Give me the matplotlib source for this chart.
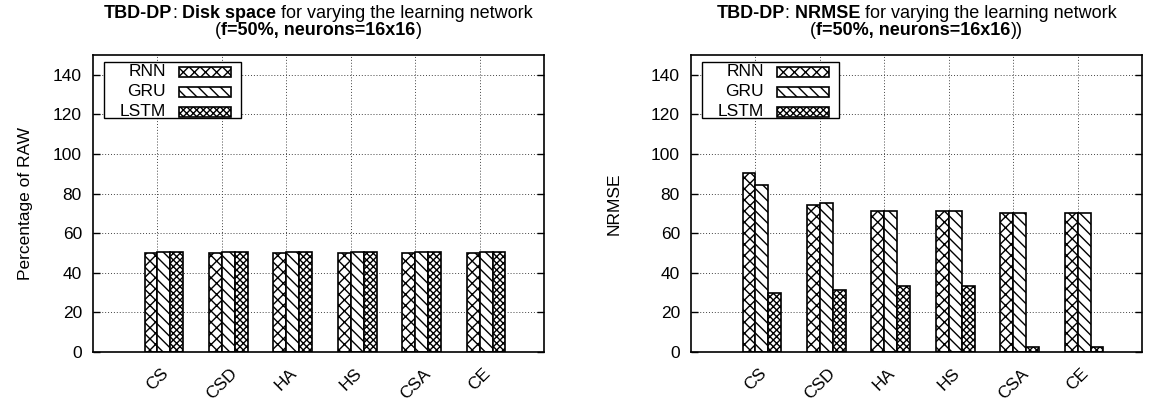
import numpy as np
import matplotlib
matplotlib.use('Agg')
import matplotlib.pyplot as plt
from matplotlib.patches import Rectangle
from matplotlib.offsetbox import TextArea, HPacker, VPacker, AnchoredOffsetbox

plt.rcParams['font.family'] = ['Liberation Sans', 'DejaVu Sans']
plt.rcParams['hatch.linewidth'] = 1.0

# data
categories = ['CS', 'CSD', 'HA', 'HS', 'CSA', 'CE']
series_names = ['RNN', 'GRU', 'LSTM']

disk_rnn = [50.0, 50.0, 50.0, 50.0, 50.0, 50.0]
disk_gru = [50.3, 50.3, 50.3, 50.3, 50.3, 50.3]
disk_lstm = [50.5, 50.5, 50.5, 50.5, 50.5, 50.5]

nrmse_rnn = [90.4, 74.4, 71.1, 71.1, 70.4, 70.4]
nrmse_gru = [84.2, 75.1, 71.1, 71.1, 70.4, 70.4]
nrmse_lstm = [30.0, 31.5, 33.5, 33.5, 2.5, 2.5]

y_ticks = [0, 20, 40, 60, 80, 100, 120, 140]

HATCHES = ['xxx', '\\\\\\', 'xxxxx']
FS = 12.5
TFS = 13
AX_W, AX_H = 451.0, 297.0  # axes size in pixels


def fx(px):
    # pixels from axes left -> axes fraction
    return px / AX_W


def fy(py):
    # pixels from axes top -> axes fraction
    return 1 - py / AX_H


def make_title(ax, bold_part, closing):
    line1 = HPacker(children=[
        TextArea('TBD-DP', textprops=dict(size=TFS, weight='bold')),
        TextArea(':', textprops=dict(size=TFS)),
        TextArea(' ' + bold_part, textprops=dict(size=TFS, weight='bold')),
        TextArea(' for varying the learning network', textprops=dict(size=TFS)),
    ], pad=0, sep=0, align='baseline')
    line2 = HPacker(children=[
        TextArea('(', textprops=dict(size=TFS)),
        TextArea('f=50%, neurons=16x16', textprops=dict(size=TFS, weight='bold')),
        TextArea(closing, textprops=dict(size=TFS)),
    ], pad=0, sep=0, align='baseline')
    box = VPacker(children=[line1, line2], pad=0, sep=0, align='center')
    anchored = AnchoredOffsetbox(loc='lower center', child=box, pad=0, borderpad=0,
                                 frameon=False, bbox_to_anchor=(0.5, 1.055),
                                 bbox_transform=ax.transAxes)
    ax.add_artist(anchored)


def draw_legend(ax):
    # hand-made key: label on the left (right aligned), hatched sample on the right
    ax.add_patch(Rectangle((fx(11), fy(63)), fx(137), fy(7.5) - fy(63),
                           transform=ax.transAxes, facecolor='white',
                           edgecolor='black', linewidth=1.0, zorder=4))
    for k, name in enumerate(series_names):
        yc = 17 + 20 * k
        ax.text(fx(73), fy(yc), name, transform=ax.transAxes, ha='right',
                va='center', fontsize=FS, zorder=5)
        ax.add_patch(Rectangle((fx(86), fy(yc + 5)), fx(52), fy(yc - 5) - fy(yc + 5),
                               transform=ax.transAxes, facecolor='white',
                               edgecolor='black', hatch=HATCHES[k], linewidth=1.2,
                               zorder=5))


def draw_panel(ax, rnn, gru, lstm, ylabel, bold_part, closing, labelpad):
    x = np.arange(len(categories))
    w = 0.2
    for k, vals in enumerate([rnn, gru, lstm]):
        ax.bar(x - w / 2 + k * w, vals, width=w, facecolor='white', edgecolor='black',
               hatch=HATCHES[k], linewidth=1.2, zorder=2)
    ax.set_xlim(-1, 6)
    ax.set_ylim(0, 150)
    ax.set_yticks(y_ticks)
    ax.set_xticks(x)
    ax.set_xticklabels(categories, rotation=45, ha='center', va='top', fontsize=FS)
    ax.tick_params(axis='x', length=0, pad=10)
    ax.tick_params(axis='y', direction='in', right=True, length=5, width=1,
                   labelsize=FS, pad=8)
    ax.set_axisbelow(True)
    ax.grid(True, color='#444444', linestyle=(0, (1, 2)), linewidth=0.7)
    for s in ax.spines.values():
        s.set_linewidth(1.2)
    ax.set_ylabel(ylabel, fontsize=FS, labelpad=labelpad)
    draw_legend(ax)
    make_title(ax, bold_part, closing)


fig = plt.figure(figsize=(11.5, 4.05), dpi=100)
ax1 = fig.add_axes([0.0809, 0.1309, 0.3922, 0.7333])
ax2 = fig.add_axes([0.6009, 0.1309, 0.3922, 0.7333])

draw_panel(ax1, disk_rnn, disk_gru, disk_lstm, 'Percentage of RAW', 'Disk space', ')', 14)
draw_panel(ax2, nrmse_rnn, nrmse_gru, nrmse_lstm, 'NRMSE', 'NRMSE', '))', 21)

fig.savefig('out.png', dpi=100)
